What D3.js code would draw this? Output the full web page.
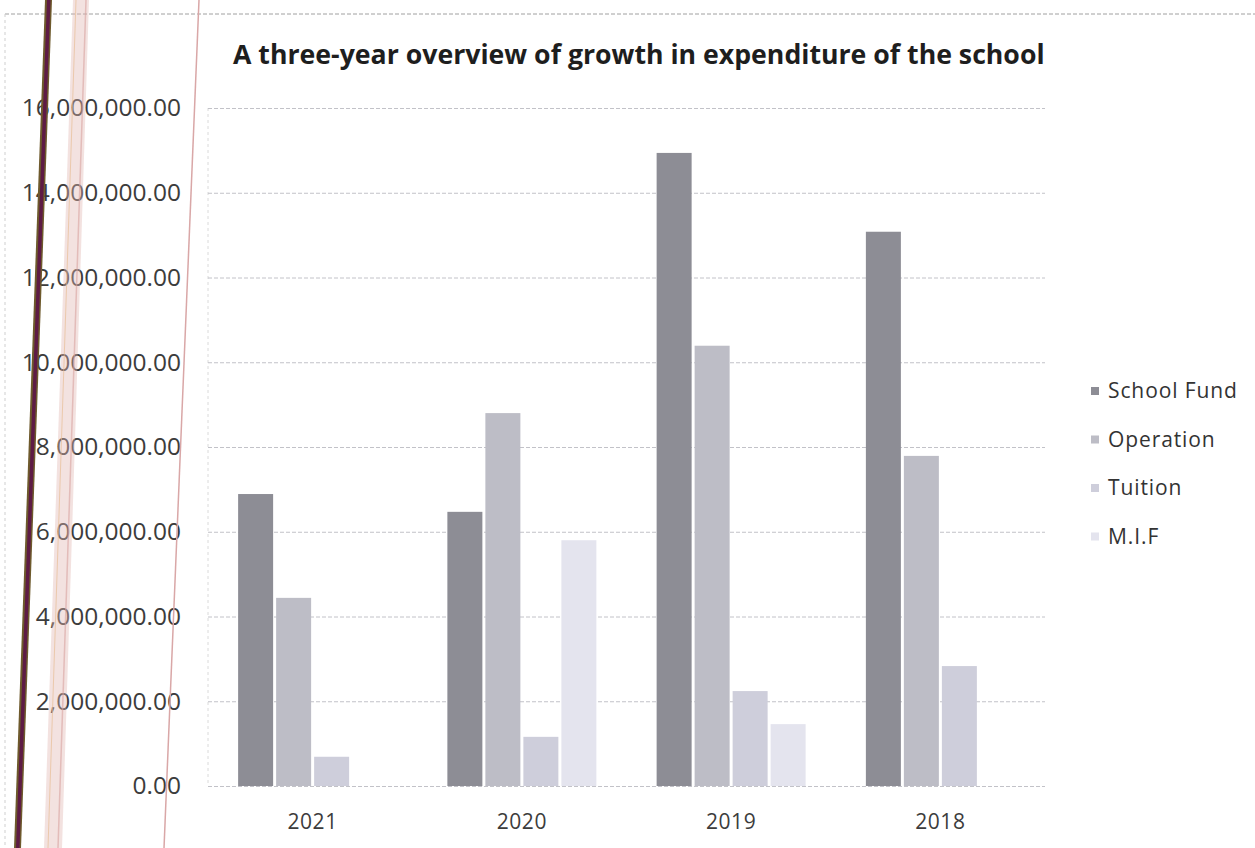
<!DOCTYPE html>
<html>
<head>
<meta charset="utf-8">
<script src="https://cdn.jsdelivr.net/npm/d3@7/dist/d3.min.js"></script>
<style>
  html, body { margin: 0; padding: 0; background: #fff; }
  svg { display: block; }
</style>
</head>
<body>
<svg id="chart" width="1255" height="848"></svg>
<script>
const categories = ["2021", "2020", "2019", "2018"];
const seriesNames = ["School Fund", "Operation", "Tuition", "M.I.F"];
const schoolFund = [6890000, 6470000, 14940000, 13080000];
const operation  = [4440000, 8800000, 10390000, 7790000];
const tuition    = [690000, 1160000, 2240000, 2830000];
const mif        = [0, 5800000, 1460000, 0];
const yTicks = [0, 2000000, 4000000, 6000000, 8000000, 10000000, 12000000, 14000000, 16000000];
const title = "A three-year overview of growth in expenditure of the school";

const seriesValues = [schoolFund, operation, tuition, mif];
const colors = ["#8d8d95", "#bdbdc6", "#cecedb", "#e4e4ee"];

const svg = d3.select("#chart");
const W = 1255, H = 848;
const plot = { left: 208, right: 1045, top: 108, bottom: 786 };

// outer chart frame (dashed)
svg.append("line").attr("x1", 5).attr("x2", W).attr("y1", 14).attr("y2", 14)
  .attr("stroke", "#a0a0a0").attr("stroke-width", 1).attr("stroke-dasharray", "4,2");
svg.append("line").attr("x1", 5).attr("x2", 5).attr("y1", 14).attr("y2", H)
  .attr("stroke", "#cfcfcf").attr("stroke-width", 1).attr("stroke-dasharray", "3,3");

const y = d3.scaleLinear().domain([0, 16000000]).range([plot.bottom, plot.top]);
const x0 = d3.scaleBand().domain(categories).range([plot.left, plot.right]).paddingInner(0).paddingOuter(0);
const barW = 35, barGap = 3;
const groupW = seriesNames.length * barW + (seriesNames.length - 1) * barGap;
const x1 = d3.scaleBand().domain(seriesNames)
  .range([(x0.bandwidth() - groupW) / 2, (x0.bandwidth() + groupW) / 2])
  .paddingInner(barGap / (barW + barGap)).paddingOuter(0);

// plot area left border (dotted)
svg.append("line").attr("x1", plot.left).attr("x2", plot.left).attr("y1", plot.top).attr("y2", plot.bottom)
  .attr("stroke", "#dadada").attr("stroke-dasharray", "3,3");

// gridlines
const grid = svg.append("g").attr("transform", `translate(${plot.left},0)`)
  .call(d3.axisLeft(y).tickValues(yTicks).tickSize(-(plot.right - plot.left)).tickFormat(""));
grid.select(".domain").remove();
grid.selectAll(".tick line").attr("stroke", "#c2c2c8").attr("stroke-width", 1).attr("stroke-dasharray", "4,2");

// y tick labels
const fmt = d3.format(",.2f");
const yAxis = svg.append("g").attr("transform", `translate(181,0)`)
  .call(d3.axisLeft(y).tickValues(yTicks).tickSize(0).tickPadding(0).tickFormat(fmt));
yAxis.select(".domain").remove();
yAxis.selectAll("text").attr("font-family", "'Open Sans', sans-serif").attr("font-size", 24.5)
  .attr("fill", "#3c3c3c").attr("text-anchor", "end");

// bars
const groups = svg.append("g").selectAll("g").data(categories).join("g")
  .attr("transform", d => `translate(${x0(d)},0)`);
groups.selectAll("rect")
  .data((d, i) => seriesNames.map((s, j) => ({ s, j, v: seriesValues[j][i] })))
  .join("rect")
  .attr("x", d => x1(d.s))
  .attr("width", x1.bandwidth())
  .attr("y", d => y(d.v))
  .attr("height", d => y(0) - y(d.v))
  .attr("fill", d => colors[d.j]);

// x axis labels
const xAxis = svg.append("g").attr("transform", `translate(0,${plot.bottom + 28})`)
  .call(d3.axisBottom(x0).tickSize(0).tickPadding(0));
xAxis.select(".domain").remove();
xAxis.selectAll("text").attr("font-family", "'Open Sans', sans-serif").attr("font-size", 21)
  .attr("fill", "#3c3c3c").attr("dy", "0.71em").attr("letter-spacing", 0.5);

// title
const t = svg.append("text").attr("x", 233).attr("y", 64)
  .attr("font-family", "'Open Sans', sans-serif").attr("font-weight", "bold")
  .attr("font-size", 24).attr("fill", "#1e1e1e").text(title);
const tl = t.node().getComputedTextLength();
t.attr("font-size", 24 * 812 / tl);

// legend
const legend = svg.append("g").attr("transform", "translate(1091,391)");
const li = legend.selectAll("g").data(seriesNames).join("g")
  .attr("transform", (d, i) => `translate(0,${i * 48.5})`);
li.append("rect").attr("x", 0).attr("y", -4).attr("width", 8).attr("height", 8)
  .attr("fill", (d, i) => colors[i]);
li.append("text").attr("x", 17).attr("y", 0).attr("dy", "0.35em")
  .attr("font-family", "'Open Sans', sans-serif").attr("font-size", 21)
  .attr("fill", "#333").attr("letter-spacing", 0.9).text(d => d);

// scanner streak artifacts on the left
const streaks = svg.append("g");
streaks.append("polygon").attr("points", "73,0 89,0 62,848 44,848").attr("fill", "#e2b6b2").attr("opacity", 0.4);
streaks.append("line").attr("x1", 76).attr("y1", 0).attr("x2", 48).attr("y2", 848).attr("stroke", "#e7b98a").attr("stroke-width", 1).attr("opacity", 0.6);
streaks.append("line").attr("x1", 86).attr("y1", 0).attr("x2", 58).attr("y2", 848).attr("stroke", "#d9a3a0").attr("stroke-width", 1.5).attr("opacity", 0.6);
streaks.append("polygon").attr("points", "45,0 52,0 21,848 14,848").attr("fill", "#6e5a2c");
streaks.append("polygon").attr("points", "47,0 50.5,0 19.5,848 16,848").attr("fill", "#5e1b45");
streaks.append("line").attr("x1", 199).attr("y1", 0).attr("x2", 164).attr("y2", 848)
  .attr("stroke", "#d9a7a7").attr("stroke-width", 1.5);
</script>
</body>
</html>
